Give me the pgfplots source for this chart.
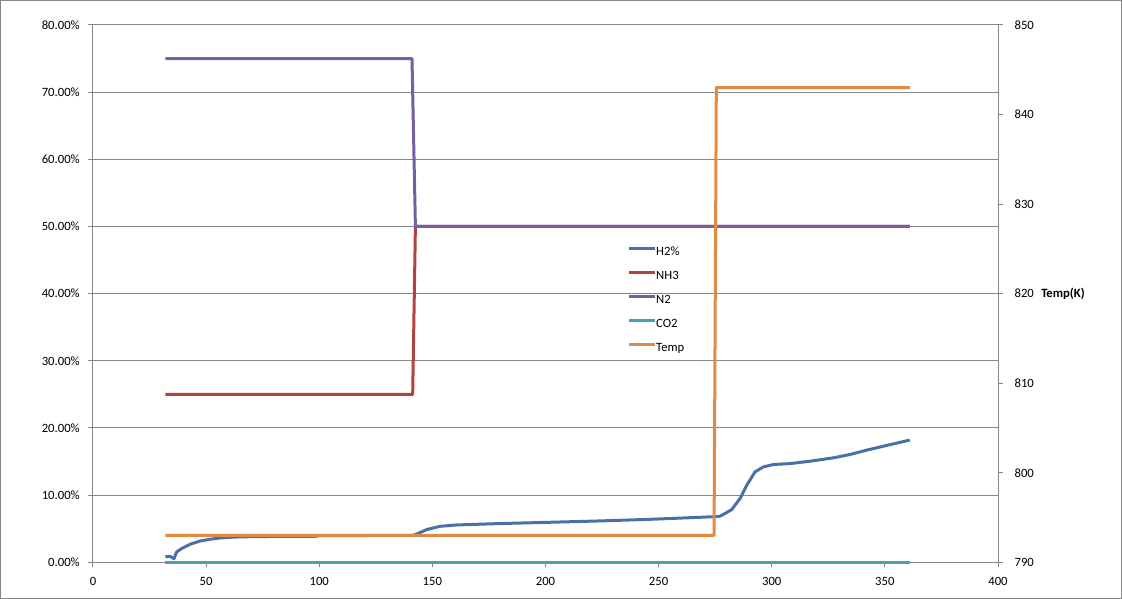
\documentclass[border=0pt]{standalone}
\usepackage{pgfplots}
\pgfplotsset{compat=1.18}
\usepackage{fontspec}
\setmainfont{Carlito}
\definecolor{cH}{HTML}{4672A8}
\definecolor{cN}{HTML}{B0433F}
\definecolor{cNN}{HTML}{7460A0}
\definecolor{cC}{HTML}{4A9FB3}
\definecolor{cT}{HTML}{E08A45}
\definecolor{gridgray}{HTML}{868686}
\definecolor{axisgray}{HTML}{868686}
\begin{document}
\begin{tikzpicture}
\pgfplotsset{
  every axis/.append style={
    scale only axis, width=678.75pt, height=403pt, xmin=0, xmax=400,
    clip=false,
    /pgf/number format/assume math mode=true,
    tick label style={font=\fontsize{9.5}{11}\selectfont, text=black},
    axis line style={color=axisgray, line width=0.75pt, -},
    tick style={color=axisgray, line width=0.75pt},
    tick align=outside, major tick length=3.75pt,
    every axis plot/.append style={line width=2.25pt, line join=round},
  }
}
\begin{axis}[at={(0,0)}, anchor=south west,
  axis x line*=bottom, axis y line*=left,
  ymin=0, ymax=80, ytick={0,10,...,80}, xtick={0,50,...,400},
  ymajorgrids, grid style={color=gridgray, line width=0.75pt},
  yticklabel={\pgfmathprintnumber[fixed,fixed zerofill,precision=2]{\tick}\%},
  yticklabel style={anchor=east, inner sep=0pt, xshift=-6pt},
  xticklabel style={anchor=north, inner sep=0pt, yshift=-7pt},
  legend style={at={(0.590,0.588)}, anchor=north west, draw=none, fill=none,
    font=\fontsize{9.5}{11}\selectfont, row sep=9pt, inner sep=0pt,
    nodes={inner sep=0pt, text height=7pt, text depth=2pt},
    /tikz/every even column/.append style={column sep=2pt}},
  legend cell align=left,
  legend image code/.code={\draw[#1] (0pt,3pt) -- (19.5pt,3pt);},
]
\addplot[cH] coordinates {(32,0.8)(34,0.9)(35.8,0.55)(37,1.55)(39.2,2.05)(42.9,2.68)(47.3,3.17)(51.7,3.43)(56.1,3.62)(62,3.75)(70,3.82)(80,3.85)(99,3.88)(100,3.98)(141,4.0)(142.3,4.1)(147.5,4.87)(153.4,5.36)(160.8,5.56)(179.9,5.77)(202,5.96)(224.1,6.16)(246.2,6.4)(268.3,6.7)(274.9,6.8)(277.1,6.86)(279,7.2)(282.3,7.85)(286,9.5)(289,11.5)(292.6,13.46)(296.3,14.2)(300.7,14.56)(308.1,14.7)(316.9,15.05)(327.2,15.55)(334.6,16.05)(342,16.7)(350.8,17.4)(361,18.2)};
\addlegendentry{H2\%}
\addplot[cN] coordinates {(32,25)(141.3,25)(142.5,50)(361,50)};
\addlegendentry{NH3}
\addplot[cNN] coordinates {(32,75)(141,75)(142.5,50)(361,50)};
\addlegendentry{N2}
\addplot[cC] coordinates {(32,0)(361,0)};
\addlegendentry{CO2}
\addlegendimage{cT, line width=2.25pt}
\addlegendentry{Temp}
\end{axis}
\begin{axis}[at={(0,0)}, anchor=south west,
  axis x line=none, axis y line*=right,
  ymin=790, ymax=850, ytick={790,800,...,850},
  yticklabel style={anchor=west, inner sep=0pt, xshift=8.5pt},
]
\addplot[cT] coordinates {(32,793)(274.5,793)(275.5,843)(361,843)};
\node[anchor=west, inner sep=0pt, xshift=32.25pt, font=\bfseries\fontsize{9.5}{11}\selectfont] at (rel axis cs:1,0.5) {Temp(K)};
\end{axis}
\draw[color=axisgray, line width=0.75pt] (-69.375pt,-27.125pt) rectangle (771.375pt,421.35pt);
\pgfresetboundingbox
\useasboundingbox (-69.75pt,-27.5pt) rectangle (771.75pt,421.725pt);
\end{tikzpicture}
\end{document}
